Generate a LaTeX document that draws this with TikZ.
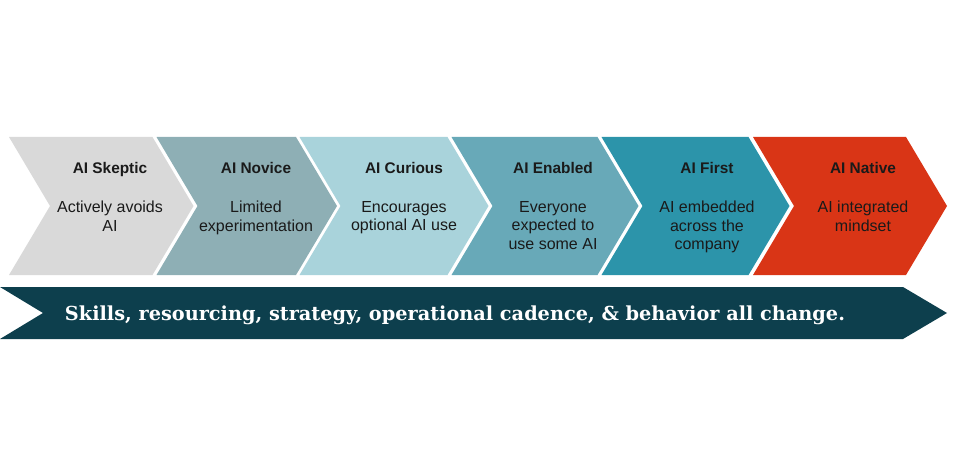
\documentclass[tikz,border=0pt]{standalone}
\usepackage{fontspec}
\setmainfont{Liberation Sans}
\newfontfamily\bannerfont{DejaVu Serif}
\usepackage{tikz}

\definecolor{ink}{HTML}{1A1A1A}
\definecolor{skeptic}{HTML}{D9D9D9}
\definecolor{novice}{HTML}{8EAFB5}
\definecolor{curious}{HTML}{A9D3DB}
\definecolor{enabled}{HTML}{68A9B8}
\definecolor{first}{HTML}{2C94AA}
\definecolor{native}{HTML}{D93516}
\definecolor{banner}{HTML}{0D3F4D}

\begin{document}
\begin{tikzpicture}[x = 1pt, y = -1pt,
                    title/.style = {font = \fontsize{15.4}{18}\selectfont\bfseries, text = ink, anchor = base, inner sep = 0pt},
                    desc/.style = {font = \fontsize{16}{18.5}\selectfont, text = ink, align = center, anchor = north, inner sep = 0pt}]
  \useasboundingbox (0,0) rectangle (956,473);

  \fill [skeptic] (9,137)--(152.5,137)--(193.5,206)--(152.5,275)--(9,275)--(50,206)--cycle;
  \fill [novice] (156.5,137)--(296,137)--(337,206)--(296,275)--(156.5,275)--(197.5,206)--cycle;
  \fill [curious] (299.5,137)--(447.5,137)--(488.5,206)--(447.5,275)--(299.5,275)--(340.5,206)--cycle;
  \fill [enabled] (451.5,137)--(597.5,137)--(638.5,206)--(597.5,275)--(451.5,275)--(492.5,206)--cycle;
  \fill [first] (601.5,137)--(748.5,137)--(789.5,206)--(748.5,275)--(601.5,275)--(642.5,206)--cycle;
  \fill [native] (753,137)--(906,137)--(947,206)--(906,275)--(753,275)--(794,206)--cycle;

  \node [title] (C1) at (110,174) {AI Skeptic};
  \node [title] (C2) at (256,174) {AI Novice};
  \node [title] (C3) at (404,174) {AI Curious};
  \node [title] (C4) at (553,174) {AI Enabled};
  \node [title] (C5) at (707,174) {AI First};
  \node [title] (C6) at (863,174) {AI Native};

  \node [desc] (D1) at (110,201) {Actively avoids\\AI};
  \node [desc] (D2) at (256,201) {Limited\\experimentation};
  \node [desc] (D3) at (404,201) {Encourages\\optional AI use};
  \node [desc] (D4) at (553,201) {Everyone\\expected to\\use some AI};
  \node [desc] (D5) at (707,201) {AI embedded\\across the\\company};
  \node [desc] (D6) at (863,201) {AI integrated\\mindset};

  \fill [banner] (0,287)--(903,287)--(947,313)--(903,339)--(0,339)--(43,313)--cycle;
  \node [font = \bannerfont\bfseries\fontsize{19.3}{22}\selectfont, text = white, anchor = base, inner sep = 0pt] (B) at (455,320) {Skills, resourcing, strategy, operational cadence, \& behavior all change.};
\end{tikzpicture}
\end{document}
